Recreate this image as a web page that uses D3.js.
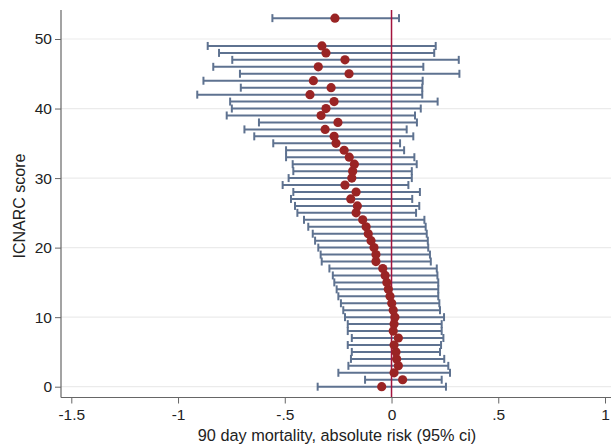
<!DOCTYPE html>
<html>
<head>
<meta charset="utf-8">
<script src="https://cdn.jsdelivr.net/npm/d3@7"></script>
<style>
  html, body { margin: 0; padding: 0; background: #fff; }
  svg { display: block; font-family: "Liberation Sans", Arial, sans-serif; }
</style>
</head>
<body>
<svg id="chart" width="613" height="444"></svg>
<script>
// ICNARC score rows
const scores = [0,1,2,3,4,5,6,7,8,9,10,11,12,13,14,15,16,17,18,19,20,21,22,23,24,25,26,27,28,29,30,31,32,33,34,35,36,37,38,39,40,41,42,43,44,45,46,47,48,49,53];
// point estimates (absolute risk difference)
const estimate = [-0.046,0.052,0.012,0.032,0.024,0.021,0.012,0.032,0.008,0.012,0.016,0.008,0.001,-0.007,-0.015,-0.022,-0.030,-0.041,-0.073,-0.073,-0.082,-0.096,-0.109,-0.119,-0.135,-0.166,-0.160,-0.191,-0.166,-0.218,-0.186,-0.182,-0.174,-0.198,-0.222,-0.260,-0.269,-0.311,-0.251,-0.330,-0.307,-0.269,-0.382,-0.283,-0.366,-0.199,-0.343,-0.218,-0.307,-0.326,-0.265];
// lower 95% ci
const lower = [-0.346,-0.124,-0.249,-0.202,-0.190,-0.186,-0.205,-0.186,-0.205,-0.205,-0.218,-0.226,-0.237,-0.249,-0.257,-0.268,-0.275,-0.291,-0.327,-0.332,-0.343,-0.358,-0.369,-0.390,-0.410,-0.441,-0.452,-0.471,-0.460,-0.510,-0.482,-0.460,-0.463,-0.494,-0.494,-0.554,-0.643,-0.689,-0.621,-0.772,-0.748,-0.756,-0.910,-0.706,-0.881,-0.710,-0.835,-0.746,-0.808,-0.861,-0.558];
// upper 95% ci
const upper = [0.255,0.235,0.274,0.266,0.247,0.227,0.232,0.243,0.235,0.235,0.246,0.227,0.224,0.219,0.219,0.219,0.215,0.212,0.184,0.180,0.172,0.170,0.165,0.160,0.154,0.115,0.130,0.097,0.133,0.079,0.095,0.095,0.118,0.107,0.059,0.040,0.102,0.071,0.119,0.110,0.137,0.216,0.144,0.144,0.146,0.318,0.149,0.315,0.200,0.207,0.035];

const xTicks = [-1.5,-1,-0.5,0,0.5,1];
const xTickLabels = ["-1.5","-1","-.5","0",".5","1"];
const yTicks = [0,10,20,30,40,50];
const yTickLabels = ["0","10","20","30","40","50"];
const xTitle = "90 day mortality, absolute risk (95% ci)";
const yTitle = "ICNARC score";

const rows = scores.map((s,i) => ({score: s, est: estimate[i], lo: lower[i], hi: upper[i]}));

const svg = d3.select("#chart");
const x = d3.scaleLinear().domain([-1.5, 1]).range([71.3, 605]);
const y = d3.scaleLinear().domain([0, 50]).range([386.7, 39]);
const plotLeft = 61, plotRight = 611, plotTop = 10, plotBottom = 397.5;

// gridlines
svg.append("g").selectAll("line").data(yTicks).join("line")
  .attr("x1", plotLeft).attr("x2", plotRight)
  .attr("y1", d => y(d)).attr("y2", d => y(d))
  .attr("stroke", "#ebebeb").attr("stroke-width", 1.2);

// whiskers
const wg = svg.append("g").attr("stroke", "#5e7290").attr("stroke-width", 2);
wg.selectAll("line.w").data(rows).join("line").attr("class","w")
  .attr("x1", d => x(d.lo)).attr("x2", d => x(d.hi))
  .attr("y1", d => y(d.score)).attr("y2", d => y(d.score));
wg.selectAll("line.cl").data(rows).join("line").attr("class","cl")
  .attr("x1", d => x(d.lo)).attr("x2", d => x(d.lo))
  .attr("y1", d => y(d.score) - 4).attr("y2", d => y(d.score) + 4);
wg.selectAll("line.cr").data(rows).join("line").attr("class","cr")
  .attr("x1", d => x(d.hi)).attr("x2", d => x(d.hi))
  .attr("y1", d => y(d.score) - 4).attr("y2", d => y(d.score) + 4);

// reference line at zero
svg.append("line")
  .attr("x1", x(0)).attr("x2", x(0))
  .attr("y1", plotTop).attr("y2", plotBottom)
  .attr("stroke", "#a3143e").attr("stroke-width", 1.5);

// points
svg.append("g").selectAll("circle").data(rows).join("circle")
  .attr("cx", d => x(d.est)).attr("cy", d => y(d.score))
  .attr("r", 4.6).attr("fill", "#9a2424");

// y axis
const yAxis = d3.axisLeft(y).tickValues(yTicks).tickFormat((d,i) => yTickLabels[i]).tickSize(6).tickPadding(3).tickSizeOuter(0);
const ya = svg.append("g").attr("transform", `translate(${plotLeft},0)`).call(yAxis);
ya.select(".domain").remove();
ya.append("line").attr("x1",0).attr("x2",0).attr("y1",plotTop).attr("y2",plotBottom).attr("stroke","#666").attr("stroke-width",1.2);
ya.selectAll(".tick line").attr("stroke","#666");
ya.selectAll("text").attr("font-size", 15.5).attr("fill", "#222").attr("font-family","Liberation Sans, Arial, sans-serif");

// x axis
const xAxis = d3.axisBottom(x).tickValues(xTicks).tickFormat((d,i) => xTickLabels[i]).tickSize(6).tickPadding(5).tickSizeOuter(0);
const xa = svg.append("g").attr("transform", `translate(0,${plotBottom})`).call(xAxis);
xa.select(".domain").remove();
xa.append("line").attr("x1",plotLeft).attr("x2",plotRight).attr("y1",0).attr("y2",0).attr("stroke","#666").attr("stroke-width",1.2);
xa.selectAll(".tick line").attr("stroke","#666");
xa.selectAll("text").attr("font-size", 15.5).attr("fill", "#222").attr("font-family","Liberation Sans, Arial, sans-serif");

// titles
svg.append("text").attr("x", 337).attr("y", 441)
  .attr("text-anchor", "middle").attr("font-size", 16.3).attr("fill", "#222")
  .text(xTitle);
svg.append("text").attr("transform", "translate(25,206) rotate(-90)")
  .attr("text-anchor", "middle").attr("font-size", 16).attr("fill", "#222")
  .text(yTitle);
</script>
</body>
</html>
